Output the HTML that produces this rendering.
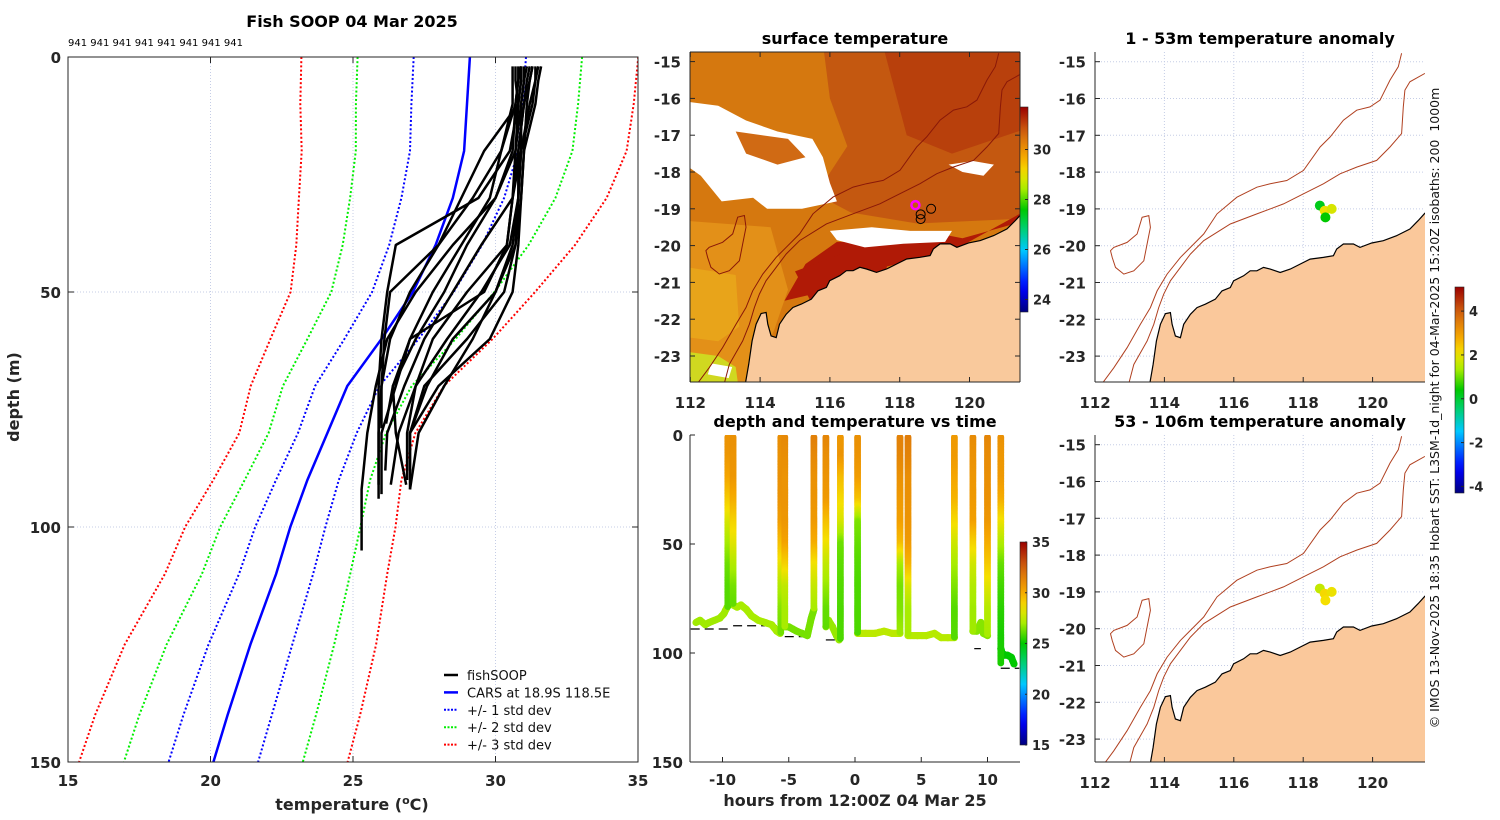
<!DOCTYPE html>
<html><head><meta charset="utf-8"><title>Fish SOOP 04 Mar 2025</title>
<style>
html,body{margin:0;padding:0;background:#fff;}
svg{display:block;font-family:"DejaVu Sans","Liberation Sans",sans-serif;}
.tk{font-size:15px;font-weight:bold;fill:#262626;}
.ttl{font-size:16px;font-weight:bold;fill:#000;}
</style></head>
<body>
<svg id="fig" width="1500" height="820" viewBox="0 0 1500 820" xmlns="http://www.w3.org/2000/svg">
<defs>
<clipPath id="clipL"><rect x="68" y="57" width="570" height="705"/></clipPath>
<clipPath id="clipT"><rect x="690" y="435" width="330" height="327"/></clipPath>
<clipPath id="clipM"><rect x="690" y="52" width="330" height="330"/></clipPath>
<clipPath id="clipR1"><rect x="1095" y="52" width="330" height="330"/></clipPath>
<clipPath id="clipR2"><rect x="1095" y="435" width="330" height="327"/></clipPath>
</defs>
</svg>
<script>
// ---------------- data ----------------
const carsDepths=[0,10,20,30,40,50,60,70,80,90,100,110,125,140,150];
const carsMean=[29.1,29.0,28.9,28.5,27.9,27.1,26.0,24.8,24.1,23.4,22.8,22.3,21.4,20.6,20.1];
const carsStd=[1.97,1.95,1.9,1.8,1.63,1.43,1.3,1.13,1.03,1.1,1.23,1.3,1.47,1.55,1.57];
const profDepths=[2,5,10,20,30,40,50,60,70,80,92];
const profTemps=[
[30.8,30.8,30.7,30.2,29.2,28.0,27.0,26.3,26.0,26.0,26.0],
[30.9,30.9,30.8,30.7,30.0,29.0,28.2,27.2,26.4,26.1,26.0],
[31.0,31.0,30.9,30.9,30.8,30.5,29.5,28.3,27.2,26.6,26.3],
[31.2,31.1,31.0,30.8,30.8,30.7,30.3,29.0,27.5,27.0,27.0],
[31.5,31.4,31.2,30.9,30.8,30.6,30.0,28.5,27.6,27.0,26.8],
[31.3,31.2,31.0,30.8,30.6,29.5,28.5,27.5,26.8,26.2,26.1],
[30.7,30.7,30.8,29.6,28.8,28.0,26.3,26.1,26.0,25.9,25.9],
[30.9,30.9,30.8,30.5,29.4,26.5,26.2,26.0,25.9,25.9,25.9],
[31.4,31.4,31.3,30.9,30.6,30.4,29.6,27.0,26.4,26.5,26.9],
[31.6,31.5,31.4,31.0,30.9,30.8,30.6,29.8,28.0,27.0,27.0],
[30.6,30.6,30.6,30.2,29.8,28.8,27.8,27.0,26.5,26.0,26.0],
[31.1,31.0,30.9,30.7,30.6,30.4,29.0,27.8,27.2,26.9,26.9],
[31.3,31.2,31.1,31.0,30.9,30.7,30.0,29.2,28.2,27.3,27.0],
[30.9,30.8,30.7,30.6,30.0,28.5,27.2,26.2,25.8,25.5,25.3]];
const castHours=[-9.6,-9.2,-5.6,-5.3,-3.1,-2.2,-1.1,0.2,3.4,4.0,7.5,8.9,10.0,11.0];
const castDepths=[79,78,91,88,80,88,94,91,91,92,93,90,92,105];
const segHours=[[-12.0,-11.7,-11.3,-11.0,-10.6,-10.2,-9.9,-9.65],[-9.2,-8.9,-8.6,-8.2,-7.8,-7.3,-6.8,-6.3,-5.9,-5.65],[-5.3,-5.0,-4.7,-4.4,-4.0,-3.6,-3.3,-3.1],[-2.2,-2.0,-1.7,-1.4,-1.2],[0.2,0.8,1.5,2.2,2.8,3.4],[4.0,4.7,5.4,6.0,6.5,7.0,7.5],[8.9,9.2,9.5,9.7,10.0],[11.0,11.1,11.3,11.5,11.8,12.0]];
const segDepths=[[86,85,87,86,85,84,82,79],[78,79,78,80,83,85,86,87,90,91],[88,88,89,90,91,92,84,80],[88,85,88,92,94],[91,91,91,90,91,91],[92,92,92,91,93,93,93],[90,90,86,91,92],[98,100,101,101,102,105]];
const segTemps=[26.9,27.0,26.4,26.8,27.4,27.3,26.6,25.0];
const bathyStart=[-12.4,-9.2,-5.3,-2.2,0.2,4.0,9.0,11.0];
const bathyEnd=[-9.6,-5.9,-3.2,-1.3,3.4,7.4,9.5,12.4];
const bathyDepth=[89,87.5,92.5,94,91,92,98,107];
const dotLon1=[118.48,118.62,118.82,118.64];
const dotLat1=[-18.91,-19.05,-19.0,-19.23];
const dotAnom1=[0.2,2.0,1.8,0.4];
const dotAnom2=[1.6,2.2,2.0,2.1];

// ---------------- helpers ----------------
const NS='http://www.w3.org/2000/svg';
const svg=document.getElementById('fig');
function mk(tag,attrs,parent){const e=document.createElementNS(NS,tag);for(const k in attrs)e.setAttribute(k,attrs[k]);(parent||svg).appendChild(e);return e;}
function nm(e,name,inter){


return e;}
function txt(x,y,s,cls,anchor,parent,extra){const e=mk('text',Object.assign({x:x,y:y,'class':cls||'tk','text-anchor':anchor||'middle'},extra||{}),parent);e.textContent=s;return e;}
const jetStops=[[0,[0,0,127]],[0.12,[0,0,255]],[0.3,[0,200,255]],[0.42,[0,208,96]],[0.5,[0,200,0]],[0.6,[168,236,0]],[0.68,[245,224,0]],[0.76,[245,165,0]],[0.88,[208,96,16]],[1,[154,0,0]]];
function jet(t){t=Math.max(0,Math.min(1,t));for(let i=1;i<jetStops.length;i++){if(t<=jetStops[i][0]){const a=jetStops[i-1],b=jetStops[i];const f=(t-a[0])/(b[0]-a[0]);const c=a[1].map((v,k)=>Math.round(v+(b[1][k]-v)*f));return 'rgb('+c.join(',')+')';}}return 'rgb(154,0,0)';}
function interp(xs,ys,x){if(x<=xs[0])return ys[0];for(let i=1;i<xs.length;i++){if(x<=xs[i]){const f=(x-xs[i-1])/(xs[i]-xs[i-1]);return ys[i-1]+(ys[i]-ys[i-1])*f;}}return ys[ys.length-1];}
function gradient(id,vmin,vmax){const g=mk('linearGradient',{id:id,x1:0,y1:1,x2:0,y2:0},svg.querySelector('defs'));for(let i=0;i<=20;i++){mk('stop',{offset:(i/20),'stop-color':jet(i/20)},g);}return g;}

// ---------------- left profile panel ----------------
const xT=t=>68+(t-15)*28.5, yD=d=>57+d*4.7;
const gL=nm(mk('g',{}),'temperature-profile-panel',false);
txt(352,27,'Fish SOOP 04 Mar 2025','ttl','middle',gL);
const ids=txt(68,46,'941 941 941 941 941 941 941 941','tk','start',gL,{style:'font-size:10px;font-weight:normal;fill:#000'});
nm(ids,'profile-id-labels',false);
[20,25,30].forEach(t=>{const l=mk('line',{x1:xT(t),x2:xT(t),y1:57,y2:762,stroke:'#c5cde6','stroke-width':1,'stroke-dasharray':'1,2'},gL);nm(l,'x-gridline',false);});
[50,100].forEach(d=>{const l=mk('line',{x1:68,x2:638,y1:yD(d),y2:yD(d),stroke:'#c5cde6','stroke-width':1,'stroke-dasharray':'1,2'},gL);nm(l,'y-gridline',false);});
const plotL=mk('g',{'clip-path':'url(#clipL)'},gL);
function depthLine(vals,color,w,dash,name){let p='';carsDepths.forEach((d,i)=>{p+=(i?'L':'M')+xT(vals[i]).toFixed(1)+','+yD(d).toFixed(1);});const e=mk('path',{d:p,fill:'none',stroke:color,'stroke-width':w,'stroke-dasharray':dash||'none'},plotL);nm(e,name,false);}
[[3,'#ff0000'],[2,'#00ee00'],[1,'#0000ff']].forEach(([k,c])=>{
depthLine(carsMean.map((m,i)=>m-k*carsStd[i]),c,2,'2,2.2','cars-minus-'+k+'-std');
depthLine(carsMean.map((m,i)=>m+k*carsStd[i]),c,2,'2,2.2','cars-plus-'+k+'-std');});
depthLine(carsMean,'#0000ff',2.5,null,'cars-mean-profile');
profTemps.forEach((temps,j)=>{let p='';const maxD=castDepths[j];let first=true;
 profDepths.forEach((d,i)=>{if(d<=maxD+0.5){p+=(first?'M':'L')+xT(temps[i]).toFixed(1)+','+yD(d).toFixed(1);first=false;}});
 const lastT=interp(profDepths,temps,maxD);p+='L'+xT(lastT).toFixed(1)+','+yD(maxD).toFixed(1);
 const e=mk('path',{d:p,fill:'none',stroke:'#000','stroke-width':2.5,'stroke-linejoin':'round'},plotL);nm(e,'fishsoop-profile-'+j,false);});
const boxL=mk('rect',{x:68,y:57,width:570,height:705,fill:'none',stroke:'#262626','stroke-width':1},gL);nm(boxL,'profile-axes-box',false);
[15,20,25,30,35].forEach(t=>{mk('line',{x1:xT(t),x2:xT(t),y1:762,y2:756,stroke:'#262626'},gL);mk('line',{x1:xT(t),x2:xT(t),y1:57,y2:63,stroke:'#262626'},gL);nm(txt(xT(t),786,String(t),'tk','middle',gL),'x-tick-label',false);});
[0,50,100,150].forEach(d=>{mk('line',{x1:68,x2:74,y1:yD(d),y2:yD(d),stroke:'#262626'},gL);mk('line',{x1:632,x2:638,y1:yD(d),y2:yD(d),stroke:'#262626'},gL);nm(txt(61,yD(d)+6,String(d),'tk','end',gL),'y-tick-label',false);});
const xl=txt(352,810,'','tk','middle',gL,{style:'font-size:16px'});xl.innerHTML='temperature (<tspan dy="-6" font-size="11">o</tspan><tspan dy="6">C)</tspan>';nm(xl,'x-axis-title',false);
nm(txt(0,0,'depth (m)','tk','middle',gL,{transform:'translate(19,397) rotate(-90)',style:'font-size:16px'}),'y-axis-title',false);
const legend=nm(mk('g',{},gL),'legend',false);
[['fishSOOP','#000',null],['CARS at 18.9S 118.5E','#0000ff',null],['+/- 1 std dev','#0000ff','2,1.5'],['+/- 2 std dev','#00ee00','2,1.5'],['+/- 3 std dev','#ff0000','2,1.5']].forEach(([s,c,dash],i)=>{
 const y=675+i*17.4;const g=nm(mk('g',{},legend),'legend-entry',false);
 mk('line',{x1:444,x2:458,y1:y,y2:y,stroke:c,'stroke-width':dash?2:2.5,'stroke-dasharray':dash||'none'},g);
 txt(467,y+5,s,'tk','start',g,{style:'font-size:13px;font-weight:normal;fill:#111'});});

// ---------------- time series panel ----------------
const xH=h=>855+h*13.25, yD2=d=>435+d*2.18;
const gT=nm(mk('g',{}),'depth-time-panel',false);
txt(855,427,'depth and temperature vs time','ttl','middle',gT);
const plotT=mk('g',{'clip-path':'url(#clipT)'},gT);
bathyStart.forEach((s,i)=>{const e=mk('line',{x1:xH(s),x2:xH(bathyEnd[i]),y1:yD2(bathyDepth[i]),y2:yD2(bathyDepth[i]),stroke:'#000','stroke-width':1.2,'stroke-dasharray':'9,5'},plotT);nm(e,'bathymetry-dash',false);});
const tv=T=>jet((T-15)/20);
segHours.forEach((hs,s)=>{const g=nm(mk('g',{},plotT),'bottom-track-'+s,false);
 for(let i=1;i<hs.length;i++){const n=Math.max(2,Math.ceil(Math.hypot(xH(hs[i])-xH(hs[i-1]),yD2(segDepths[s][i])-yD2(segDepths[s][i-1]))/1.5));
  for(let k=0;k<=n;k++){const f=k/n;const h=hs[i-1]+(hs[i]-hs[i-1])*f,d=segDepths[s][i-1]+(segDepths[s][i]-segDepths[s][i-1])*f;mk('circle',{cx:xH(h).toFixed(1),cy:yD2(d).toFixed(1),r:3.6,fill:tv(segTemps[s])},g);}}});
castHours.forEach((h,c)=>{const g=nm(mk('g',{},plotT),'cast-'+c,false);
 for(let d=1;d<=castDepths[c];d+=0.7){const T=interp(profDepths,profTemps[c],d);mk('circle',{cx:xH(h).toFixed(1),cy:yD2(d).toFixed(1),r:3.4,fill:tv(T)},g);}});
mk('line',{x1:690,x2:690,y1:435,y2:762,stroke:'#262626'},gT);
mk('line',{x1:690,x2:1020,y1:762,y2:762,stroke:'#262626'},gT);
[-10,-5,0,5,10].forEach(h=>{mk('line',{x1:xH(h),x2:xH(h),y1:762,y2:757,stroke:'#262626'},gT);nm(txt(xH(h),785,String(h),'tk','middle',gT),'x-tick-label',false);});
[0,50,100,150].forEach(d=>{mk('line',{x1:690,x2:695,y1:yD2(d),y2:yD2(d),stroke:'#262626'},gT);nm(txt(683,yD2(d)+6,String(d),'tk','end',gT),'y-tick-label',false);});
nm(txt(855,806,'hours from 12:00Z 04 Mar 25','tk','middle',gT,{style:'font-size:16px'}),'x-axis-title',false);
gradient('gT',15,35);
nm(mk('rect',{x:1020,y:542,width:7,height:203,fill:'url(#gT)',stroke:'#262626','stroke-width':0.6},gT),'temperature-colorbar',false);
[15,20,25,30,35].forEach(t=>{const y=745-(t-15)/20*203;mk('line',{x1:1025,x2:1027,y1:y,y2:y,stroke:'#262626'},gT);txt(1032,y+5,String(t),'tk','start',gT,{style:'font-size:13px'});});

// ---------------- maps ----------------
const cz=[[1005,518],[985,540],[960,565],[920,585],[880,600],[845,607],[810,620],[790,610],[760,610],[740,625],[730,645],[700,650],[660,655],[630,670],[600,685],[570,695],[540,685],[520,680],[500,690],[480,690],[460,705],[430,720],[420,740],[395,750],[375,775],[345,790],[320,800],[300,820],[280,850],[270,890],[255,885],[245,850],[240,815],[225,818],[210,850],[198,900],[188,970],[178,1027]];
const iso200=[[1005,100],[960,125],[945,150],[940,200],[935,280],[900,320],[860,360],[800,380],[750,400],[700,430],[640,460],[580,490],[500,520],[420,550],[340,600],[300,640],[270,680],[240,720],[220,760],[205,800],[190,850],[170,900],[130,970],[115,1027]];
const iso1000=[[935,40],[925,80],[900,120],[870,180],[840,200],[800,210],[760,240],[720,290],[690,320],[640,390],[590,420],[540,430],[500,440],[440,470],[380,520],[340,580],[300,620],[270,650],[230,700],[200,750],[180,800],[150,850],[110,920],[70,980],[35,1027]];
const reef=[[60,630],[70,620],[110,605],[140,580],[155,530],[175,525],[180,560],[170,610],[160,660],[130,690],[100,700],[75,680],[65,650],[60,630]];
const ll=p=>[114+(p[0]-222)/104.3,-15-(p[1]-65)/110];
function proj(x0,y0){return (lon,lat)=>[x0+(lon-112)*34.7,y0+(-15-lat)*36.8];}
function pathLL(P,pts,close){return pts.map((q,i)=>{const a=P(q[0],q[1]);return (i?'L':'M')+a[0].toFixed(1)+','+a[1].toFixed(1);}).join('')+(close?'Z':'');}
const coastLL=cz.map(ll), i200=iso200.map(ll), i1000=iso1000.map(ll), reefLL=reef.map(ll);
const landLL=coastLL.concat([[113.4,-24],[123,-24],[123,coastLL[0][1]]]);
function drawMapFrame(g,P,x0,y0,h,lonLabY,box){
 [114,116,118,120].forEach(lon=>{const x=P(lon,-15)[0];mk('line',{x1:x,x2:x,y1:y0,y2:y0+h,stroke:'#c5cde6','stroke-dasharray':'1,2'},g);});
 [-15,-16,-17,-18,-19,-20,-21,-22,-23].forEach(lat=>{const y=P(112,lat)[1];mk('line',{x1:x0,x2:x0+330,y1:y,y2:y,stroke:'#c5cde6','stroke-dasharray':'1,2'},g);});}
function drawMapAxes(g,P,x0,y0,h,box){
 mk('line',{x1:x0,x2:x0,y1:y0,y2:y0+h,stroke:'#262626'},g);mk('line',{x1:x0,x2:x0+330,y1:y0+h,y2:y0+h,stroke:'#262626'},g);
 if(box){mk('line',{x1:x0+330,x2:x0+330,y1:y0,y2:y0+h,stroke:'#262626'},g);mk('line',{x1:x0,x2:x0+330,y1:y0,y2:y0,stroke:'#262626'},g);}
 [112,114,116,118,120].forEach(lon=>{const x=P(lon,-15)[0];mk('line',{x1:x,x2:x,y1:y0+h,y2:y0+h-5,stroke:'#262626'},g);if(box)mk('line',{x1:x,x2:x,y1:y0,y2:y0+5,stroke:'#262626'},g);nm(txt(x,y0+h+26,String(lon),'tk','middle',g),'lon-tick-label',false);});
 [-15,-16,-17,-18,-19,-20,-21,-22,-23].forEach(lat=>{const y=P(112,lat)[1];mk('line',{x1:x0,x2:x0+5,y1:y,y2:y,stroke:'#262626'},g);if(box)mk('line',{x1:x0+325,x2:x0+330,y1:y,y2:y,stroke:'#262626'},g);nm(txt(x0-9,y+6,String(lat),'tk','end',g),'lat-tick-label',false);});}

// SST map
const PM=(lon,lat)=>[690.3+(lon-112)*34.9,61.6+(-15-lat)*36.8];
const gM=nm(mk('g',{}),'surface-temperature-map',false);
txt(855,44,'surface temperature','ttl','middle',gM);
const cM=mk('g',{'clip-path':'url(#clipM)'},gM);
const sstPolys=[
 ['#d5780f',[[111,-14],[123,-14],[123,-25],[111,-25]]],
 ['#c45810',[[115.8,-14.5],[123,-14.5],[123,-19.2],[118.5,-19.4],[116.6,-19.1],[115.6,-18.6],[116.5,-17.3],[116,-16]]],
 ['#b8400c',[[117.5,-14.5],[121.7,-14.5],[121.7,-16.8],[119.5,-17.5],[118.2,-17.0]]],
 ['#e39018',[[111.5,-19.3],[114.3,-19.5],[114.8,-21.2],[114.4,-22.3],[113.6,-24],[111.5,-24]]],
 ['#e8a41a',[[112,-20.6],[113.3,-20.8],[113.4,-22.2],[112.8,-22.6],[112,-22.5]]],
 ['#b01a06',[[114.7,-21.5],[115.3,-20.5],[116.2,-19.9],[117.5,-19.9],[118.7,-19.6],[119.8,-19.8],[121.7,-19.3],[121.7,-19.0],[119.6,-20.1],[117.5,-20.6],[115.6,-21.3]]],
 ['#b01a06',[[115.0,-20.7],[116.4,-20.2],[117.7,-20.1],[117.6,-20.8],[115.5,-21.6]]],
 ['#d0d820',[[112,-22.9],[112.8,-23.0],[113.3,-23.3],[113.4,-24],[112,-24]]],
 ['#ffffff',[[112,-16.1],[112.8,-16.2],[113.6,-16.6],[114.5,-16.9],[115.5,-17.1],[115.8,-17.6],[116.0,-18.3],[116.2,-18.8],[115.2,-19.0],[114.2,-19.0],[113.8,-18.7],[112.9,-18.8],[112.3,-18.1],[112,-17.9]]],
 ['#d06a14',[[113.3,-16.9],[114.8,-17.1],[115.3,-17.6],[114.5,-17.8],[113.6,-17.5]]],
 ['#ffffff',[[116.0,-19.6],[117.2,-19.5],[118.3,-19.6],[119.5,-19.6],[119.3,-19.9],[118.1,-19.95],[117.0,-20.05],[116.2,-19.85]]],
 ['#ffffff',[[119.4,-17.8],[120.1,-17.7],[120.7,-17.8],[120.4,-18.1],[119.8,-18.0]]],
 ['#ffffff',[[112.6,-23.2],[113.2,-23.3],[113.1,-23.6],[112.5,-23.5]]]];
sstPolys.forEach(([c,pts],i)=>{const e=mk('path',{d:pathLL(PM,pts,true),fill:c},cM);nm(e,'sst-region-'+i,false);});
nm(mk('path',{d:pathLL(PM,i200,false),fill:'none',stroke:'#8a1808','stroke-width':1},cM),'isobath-200m',false);
nm(mk('path',{d:pathLL(PM,i1000,false),fill:'none',stroke:'#8a1808','stroke-width':1},cM),'isobath-1000m',false);
nm(mk('path',{d:pathLL(PM,reefLL,true),fill:'none',stroke:'#8a1808','stroke-width':1},cM),'reef-outline',false);
nm(mk('path',{d:pathLL(PM,landLL,true),fill:'#f9c99c',stroke:'#000','stroke-width':1.2},cM),'land',false);
[[118.9,-19.0],[118.6,-19.15],[118.6,-19.28]].forEach(q=>{const a=PM(q[0],q[1]);nm(mk('circle',{cx:a[0],cy:a[1],r:4.5,fill:'none',stroke:'#000','stroke-width':1},cM),'profile-location',false);});
{const a=PM(118.45,-18.9);nm(mk('circle',{cx:a[0],cy:a[1],r:4,fill:'none',stroke:'#ff00ff','stroke-width':2.5},cM),'current-location-marker',false);}
drawMapAxes(gM,PM,690,52,330,true);
gradient('gS',23.5,31.7);
nm(mk('rect',{x:1020,y:107,width:8,height:205,fill:'url(#gS)',stroke:'#262626','stroke-width':0.6},gM),'sst-colorbar',false);
[24,26,28,30].forEach(t=>{const y=312-(t-23.5)/8.2*205;mk('line',{x1:1025,x2:1028,y1:y,y2:y,stroke:'#262626'},gM);txt(1033,y+5,String(t),'tk','start',gM,{style:'font-size:13px'});});

// anomaly maps
function anomMap(y0,h,title,anoms,clip,name){
 const P=(lon,lat)=>[1095+(lon-112)*34.7,y0+9.7+(-15-lat)*36.8];
 const g=nm(mk('g',{}),name,false);
 txt(1260,y0-8,title,'ttl','middle',g);
 drawMapFrame(g,P,1095,y0,h);
 const c=mk('g',{'clip-path':'url(#'+clip+')'},g);
 nm(mk('path',{d:pathLL(P,i200,false),fill:'none',stroke:'#b04020','stroke-width':1},c),'isobath-200m',false);
 nm(mk('path',{d:pathLL(P,i1000,false),fill:'none',stroke:'#b04020','stroke-width':1},c),'isobath-1000m',false);
 nm(mk('path',{d:pathLL(P,reefLL,true),fill:'none',stroke:'#b04020','stroke-width':1},c),'reef-outline',false);
 nm(mk('path',{d:pathLL(P,landLL,true),fill:'#fac89b',stroke:'#000','stroke-width':1.2},c),'land',false);
 dotLon1.forEach((lon,i)=>{const a=P(lon,dotLat1[i]);const e=mk('circle',{cx:a[0],cy:a[1],r:5,fill:jet((anoms[i]+4.3)/9.4)},c);nm(e,'anomaly-dot',false);});
 drawMapAxes(g,P,1095,y0,h,false);}
anomMap(52,330,'1 - 53m temperature anomaly',dotAnom1,'clipR1','anomaly-map-1-53m');
anomMap(435,327,'53 - 106m temperature anomaly',dotAnom2,'clipR2','anomaly-map-53-106m');
gradient('gA',-4.3,5.1);
const gA=nm(mk('g',{}),'anomaly-colorbar',false);
mk('rect',{x:1455,y:287,width:9,height:206,fill:'url(#gA)',stroke:'#262626','stroke-width':0.6},gA);
[-4,-2,0,2,4].forEach(v=>{const y=493-(v+4.3)/9.4*206;mk('line',{x1:1461,x2:1464,y1:y,y2:y,stroke:'#262626'},gA);txt(1469,y+5,String(v),'tk','start',gA,{style:'font-size:13px'});});
nm(txt(0,0,'\u00a9 IMOS 13-Nov-2025 18:35 Hobart SST: L3SM-1d_night for 04-Mar-2025 15:20Z isobaths: 200  1000m','tk','middle',null,{transform:'translate(1439,408) rotate(-90)',style:'font-size:12.5px;font-weight:normal;fill:#111;white-space:pre','xml:space':'preserve'}),'credit-text',false);
</script>
</body></html>
